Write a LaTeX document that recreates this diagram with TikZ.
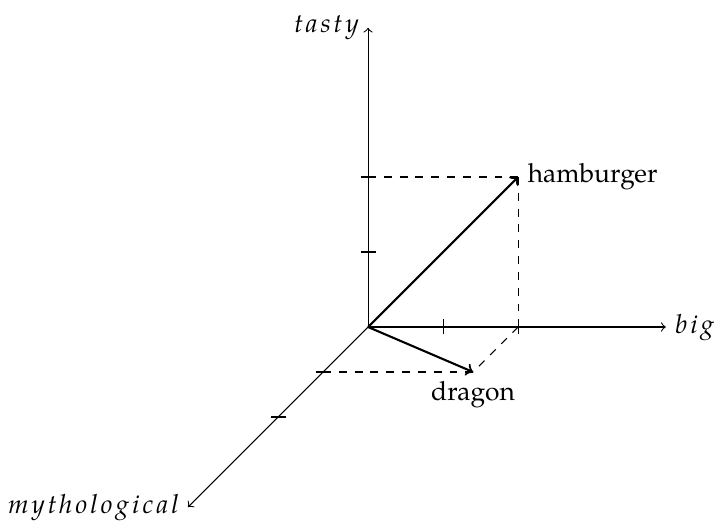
\documentclass[tikz,border=0pt]{standalone}
\usepackage{fontspec}
\setmainfont{TeX Gyre Pagella}
\newfontfamily\axisfont[LetterSpace=12]{TeX Gyre Pagella}
\begin{document}
\begin{tikzpicture}[x={(-0.6cm,-0.6cm)}, y={(1cm,0cm)}, z={(0cm,1cm)},
  axis/.style={->},
  vec/.style={->, thick},
  guide/.style={dashed},
  tick/.style={},
  axlabel/.style={font=\axisfont\itshape}]
\useasboundingbox (-4.907cm,-2.6cm) rectangle (4.653cm,4.36cm);
\coordinate (O) at (0,0,0);
\coordinate (Mend) at (4,0,0);
\coordinate (Bend) at (0,3.97,0);
\coordinate (Tend) at (0,0,3.99);
\coordinate (M1) at (1,0,0);
\coordinate (M2) at (2,0,0);
\coordinate (B1) at (0,1,0);
\coordinate (B2) at (0,2,0);
\coordinate (T1) at (0,0,1);
\coordinate (T2) at (0,0,2);
\coordinate (H) at (0,2,2);
\coordinate (D) at (1,2,0);
% axes
\draw[axis] (O) -- (Bend) node[right, axlabel] (big) {big};
\draw[axis] (O) -- (Tend) node[left, axlabel] (tasty) {tasty};
\draw[axis] (O) -- (Mend) node[left, axlabel] (myth) {mythological};
% ticks
\foreach \p in {B1,B2} \draw[tick] ([yshift=-0.1cm]\p) -- ([yshift=0.1cm]\p);
\foreach \p in {T1,T2,M1,M2} \draw[tick] ([xshift=-0.1cm]\p) -- ([xshift=0.1cm]\p);
% guides
\draw[guide] (T2) -- (H);
\draw[guide] (H) -- (B2);
\draw[guide] (M1) -- (D);
\draw[guide] (B2) -- (D);
% vectors
\draw[vec] (O) -- (H) node[right] (ham) {hamburger};
\draw[vec] (O) -- (D) node[below] (dragon) {dragon};
\end{tikzpicture}
\end{document}
